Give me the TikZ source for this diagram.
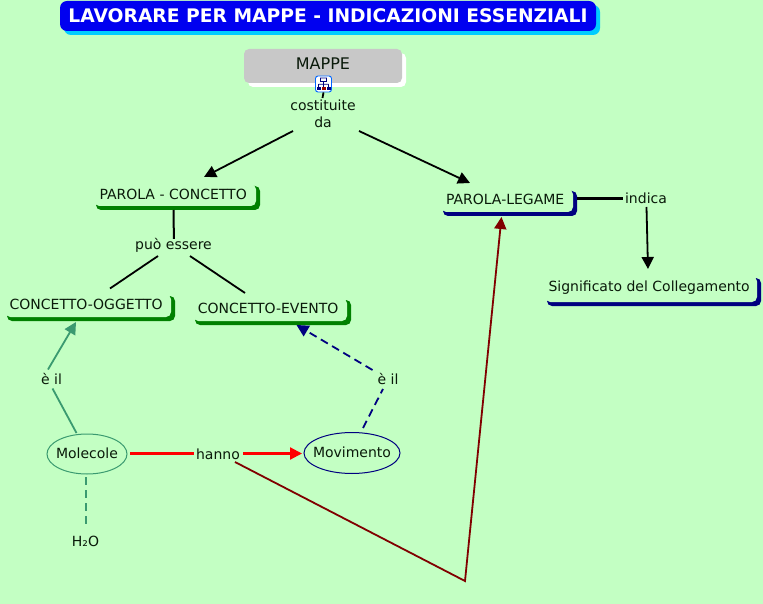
\documentclass[tikz,border=0pt]{standalone}
\usepackage{fontspec}
\setmainfont{DejaVu Sans}
\usetikzlibrary{arrows.meta,calc,shapes.geometric}
\definecolor{bgc}{HTML}{C3FFC3}
\definecolor{ink}{HTML}{0A1A0A}
\definecolor{teal}{HTML}{3A9A70}
\definecolor{navyc}{HTML}{000080}
\definecolor{greenc}{HTML}{008000}
\definecolor{redc}{HTML}{FF0000}
\definecolor{maroonc}{HTML}{800000}
\definecolor{grayc}{HTML}{C8C8C8}
\definecolor{cyanc}{HTML}{00CCFF}
\definecolor{bluec}{HTML}{0000F0}
\newcommand{\nudge}[1]{\hspace*{-4pt}#1}
\tikzset{
  x=1pt,y=-1pt,
  txt/.style={font=\fontsize{14}{17}\selectfont,text=ink,inner sep=0pt,align=center,text height=11pt,text depth=3pt},
  concept/.style={txt,fill=bgc,rounded corners=5pt},
  oval/.style={txt,ellipse,draw,line width=1pt,fill=bgc},
  phrase/.style={txt},
  conn/.style={line width=1.8pt,draw=black},
  tip/.style={-{Triangle[length=12pt,width=12pt]}},
  soft/.style={rounded corners=5pt},
}
\begin{document}
\begin{tikzpicture}
\useasboundingbox (0,0) rectangle (763,604);
\fill[bgc] (0,0) rectangle (763,604);
% title
\fill[soft,cyanc,rounded corners=7pt] (64,5) rectangle (600,35);
\node[txt,fill=bluec,rounded corners=7pt,minimum width=536pt,minimum height=30pt,font=\fontsize{18.7}{22}\bfseries\selectfont,text=white,text height=17pt] (title) at (328,16) {LAVORARE PER MAPPE - INDICAZIONI ESSENZIALI};
% MAPPE
\fill[soft,white] (248,53) rectangle (406,87);
\node[concept,fill=grayc,minimum width=158pt,minimum height=34pt,font=\fontsize{16}{18}\selectfont] (mappe) at (323,66) {MAPPE};
% icon
\node[draw=blue!60!cyan,line width=.9pt,fill=white,rounded corners=2.5pt,minimum size=16pt,inner sep=0pt] (icon) at (323.5,84) {};
\draw[navyc,line width=.8pt] (320.5,78) rectangle (326.5,81.5) (323.5,81.5) -- (323.6,87) (318.5,84.2) -- (328.5,84.3) (318.5,84.2) -- (318.6,87) (328.5,84.3) -- (328.6,87);
\fill[navyc] (317,87) rectangle (320.5,90.5);
\fill[red!60!black] (322,87) rectangle (325.5,90.5);
\fill[navyc] (327,87) rectangle (330.5,90.5);
% boxes
\fill[soft,greenc] (96,186) rectangle (260,210);
\node[concept,minimum width=161.7pt,minimum height=21.7pt] (pc) at (175.15,195.15) {\nudge{PAROLA - CONCETTO}};
\fill[soft,greenc] (7,296) rectangle (175,321);
\node[concept,minimum width=165.7pt,minimum height=22.7pt] (co) at (88.15,305.65) {\nudge{CONCETTO-OGGETTO}};
\fill[soft,greenc] (195,300) rectangle (351,325);
\node[concept,minimum width=153.7pt,minimum height=22.7pt] (ce) at (270.15,309.65) {\nudge{CONCETTO-EVENTO}};
\fill[soft,navyc] (443,191) rectangle (577,216);
\node[concept,minimum width=131.7pt,minimum height=22.7pt] (pl) at (507.15,200.65) {\nudge{PAROLA-LEGAME}};
\fill[soft,navyc] (547,278) rectangle (761,306);
\node[concept,minimum width=211.7pt,minimum height=25.7pt,text depth=6pt] (sig) at (651.15,289.15) {\nudge{Significato del Collegamento}};
% ovals
\node[oval,draw=teal,minimum width=80pt,minimum height=40pt,text height=12pt] (mol) at (87,454) {\makebox[0pt]{Molecole}};
\node[oval,draw=navyc,minimum width=96pt,minimum height=41pt] (mov) at (352,453) {\makebox[0pt]{Movimento}};
% phrases
\node[phrase,text height=31pt] (cost) at (323,113.5) {costituite\\da};
\node[phrase,text height=13pt] (puo) at (173.5,245) {può essere};
\node[phrase,text height=12pt] (eL) at (51.5,379.5) {è il};
\node[phrase,text height=12pt] (eR) at (388,379.5) {è il};
\node[phrase,text height=13pt] (hanno) at (218,454) {hanno};
\node[phrase,text height=13pt] (h2o) at (85.5,541) {H₂O};
\node[phrase,text height=12pt] (ind) at (646,199) {indica};
\coordinate (bend) at (465,581);
% connectors
\draw[conn] (icon.south) -- ($(cost)+(-.5,-15.5)$);
\draw[conn,tip] ($(cost)+(-30,17.5)$) -- ($(pc)+(28.85,-18.15)$);
\draw[conn,tip] ($(cost)+(36,17.5)$) -- ($(pl)+(-37.15,-17.65)$);
\draw[line width=2pt,black] (173.5,210) -- ($(puo.north)+(.4,2)$);
\draw[conn] ($(puo)+(-15.5,11)$) -- ($(co)+(21.85,-17.15)$);
\draw[conn] ($(puo)+(16.5,11)$) -- ($(ce)+(-25.15,-16.65)$);
\draw[teal,line width=1.8pt] ($(mol)+(-10.5,-21)$) -- ($(eL)+(1,9)$);
\draw[teal,line width=1.8pt,tip] ($(eL)+(-3.5,-10)$) -- ($(co)+(-12.15,16.35)$);
\draw[navyc,line width=1.8pt,dash pattern=on 8pt off 5pt] ($(mov)+(11,-25)$) -- ($(eR)+(-5,9.5)$);
\draw[navyc,line width=1.8pt,dash pattern=on 8pt off 5pt,tip] ($(eR)+(-15.5,-9.5)$) -- ($(ce)+(26.35,15.35)$);
\draw[redc,line width=2.2pt] ($(mol)+(43,-.5)$) -- ($(hanno)+(-24,-.5)$) ++(0,3);
\draw[redc,line width=2.2pt,tip] ($(hanno)+(25,-.5)$) -- ($(mov)+(-50,.5)$);
\draw[maroonc,line width=1.8pt,tip] ($(hanno)+(17,8)$) -- (bend) -- ($(pl)+(-5.65,16.35)$);
\draw[teal,line width=2.4pt,dash pattern=on 8pt off 5pt] ($(mol)+(-1,23)$) -- ($(h2o)+(.5,-13)$) ++(3,0);
\draw[black,line width=2.2pt] (577,198.5) -- ($(ind)+(-23,-.5)$) ++(0,3);
\draw[conn,tip] ($(ind)+(.5,8)$) -- ($(sig)+(-3.15,-20.15)$);
\end{tikzpicture}
\end{document}
